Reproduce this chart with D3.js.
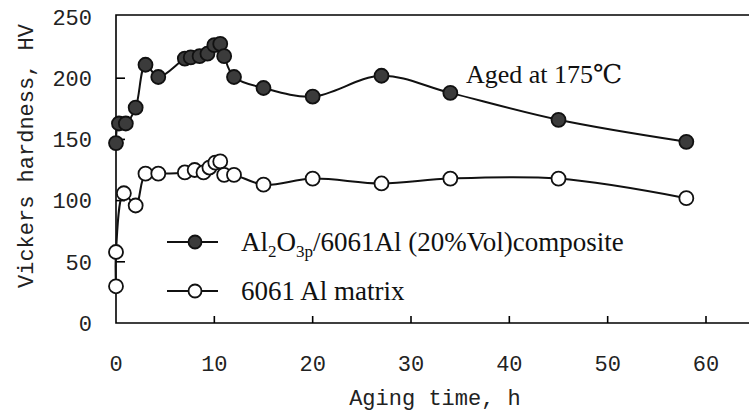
<!DOCTYPE html>
<html>
<head>
<meta charset="utf-8">
<script src="https://cdn.jsdelivr.net/npm/d3@7"></script>
<style>
  body { margin: 0; background: #fff; }
  svg { display: block; }
</style>
</head>
<body>
<script>
// aging time (h) and hardness (HV)
const compositeTime = [0, 0.3, 1, 2, 3, 4.3, 7, 7.6, 8.5, 9.3, 10, 10.6, 11, 12, 15, 20, 27, 34, 45, 58];
const compositeHV = [147, 163, 163, 176, 211, 201, 216, 217, 218, 220, 227, 228, 218, 201, 192, 185, 202, 188, 166, 148];
const matrixTime = [0, 0, 0.8, 2, 3, 4.3, 7, 8, 8.9, 9.5, 10.1, 10.6, 11, 12, 15, 20, 27, 34, 45, 58];
const matrixHV = [30, 58, 106, 96, 122, 122, 123, 125, 123, 127, 131, 132, 121, 121, 113, 118, 114, 118, 118, 102];
const xTicks = [0, 10, 20, 30, 40, 50, 60];
const yTicks = [0, 50, 100, 150, 200, 250];

const width = 749, height = 415;
const x = d3.scaleLinear().domain([0, 60]).range([116, 706]);
const y = d3.scaleLinear().domain([0, 250]).range([323, 17]);
const monoFont = "'Liberation Mono', 'DejaVu Sans Mono', monospace";
const serifFont = "'Liberation Serif', 'DejaVu Serif', serif";

const svg = d3.select("body").append("svg")
  .attr("width", width)
  .attr("height", height);

// frame: left, bottom, top (right side runs off the picture)
const frame = svg.append("g").attr("stroke", "#000").attr("stroke-width", 1.6).attr("fill", "none");
frame.append("path").attr("d", `M${width},${y(0)}H${x(0)}V15H${width}`);

// inward ticks
frame.selectAll(".xt").data(xTicks.slice(1)).join("line")
  .attr("x1", d => x(d)).attr("x2", d => x(d))
  .attr("y1", y(0)).attr("y2", y(0) - 7);
frame.selectAll(".yt").data(yTicks.slice(1, -1)).join("line")
  .attr("x1", x(0)).attr("x2", x(0) + 9)
  .attr("y1", d => y(d)).attr("y2", d => y(d));

// tick labels
svg.append("g").selectAll("text").data(xTicks).join("text")
  .attr("x", d => x(d)).attr("y", 363).attr("dy", "0.35em")
  .attr("text-anchor", "middle")
  .attr("font-family", monoFont).attr("font-size", 22).attr("fill", "#222")
  .text(d => d);
svg.append("g").selectAll("text").data(yTicks).join("text")
  .attr("x", 92).attr("y", d => y(d)).attr("dy", "0.35em")
  .attr("text-anchor", "end")
  .attr("font-family", monoFont).attr("font-size", 22).attr("fill", "#222")
  .text(d => d);

// axis titles
svg.append("text")
  .attr("transform", "translate(25,156) rotate(-90)")
  .attr("text-anchor", "middle").attr("dy", "0.35em")
  .attr("font-family", monoFont).attr("font-size", 22).attr("fill", "#222")
  .text("Vickers hardness, HV");
svg.append("text")
  .attr("x", 435).attr("y", 397).attr("dy", "0.35em")
  .attr("text-anchor", "middle")
  .attr("font-family", monoFont).attr("font-size", 22).attr("fill", "#222")
  .text("Aging time, h");

const line = d3.line()
  .x(d => x(d[0])).y(d => y(d[1]))
  .curve(d3.curveCatmullRom.alpha(0.5));

const series = [
  { time: compositeTime, hv: compositeHV, fill: "#3b3b3b" },
  { time: matrixTime, hv: matrixHV, fill: "#fff" },
];

series.forEach(s => {
  const pts = s.time.map((t, i) => [t, s.hv[i]]);
  svg.append("path")
    .attr("d", line(pts))
    .attr("fill", "none").attr("stroke", "#111").attr("stroke-width", 2);
  svg.append("g").selectAll("circle").data(pts).join("circle")
    .attr("cx", d => x(d[0])).attr("cy", d => y(d[1]))
    .attr("r", 7)
    .attr("fill", s.fill).attr("stroke", "#111").attr("stroke-width", 1.8);
});

// legend
const legend = svg.append("g");
const legendRows = [
  { y: 242, fill: "#3b3b3b" },
  { y: 291, fill: "#fff" },
];
legendRows.forEach(r => {
  legend.append("line")
    .attr("x1", 167).attr("x2", 218).attr("y1", r.y).attr("y2", r.y)
    .attr("stroke", "#111").attr("stroke-width", 2);
  legend.append("circle")
    .attr("cx", 195).attr("cy", r.y).attr("r", 6.5)
    .attr("fill", r.fill).attr("stroke", "#111").attr("stroke-width", 1.8);
});

const t1 = legend.append("text")
  .attr("x", 241).attr("y", 242).attr("dy", "0.35em")
  .attr("font-family", serifFont).attr("font-size", 27).attr("fill", "#111");
t1.append("tspan").text("Al");
t1.append("tspan").attr("font-size", 17).attr("dy", 6).text("2");
t1.append("tspan").attr("dy", -6).text("O");
t1.append("tspan").attr("font-size", 17).attr("dy", 6).text("3p");
t1.append("tspan").attr("dy", -6).text("/6061Al (20%Vol)composite");

legend.append("text")
  .attr("x", 241).attr("y", 291).attr("dy", "0.35em")
  .attr("font-family", serifFont).attr("font-size", 27).attr("fill", "#111")
  .text("6061 Al matrix");

svg.append("text")
  .attr("x", 466).attr("y", 83)
  .attr("font-family", serifFont).attr("font-size", 26).attr("fill", "#111")
  .text("Aged at 175℃");
</script>
</body>
</html>
